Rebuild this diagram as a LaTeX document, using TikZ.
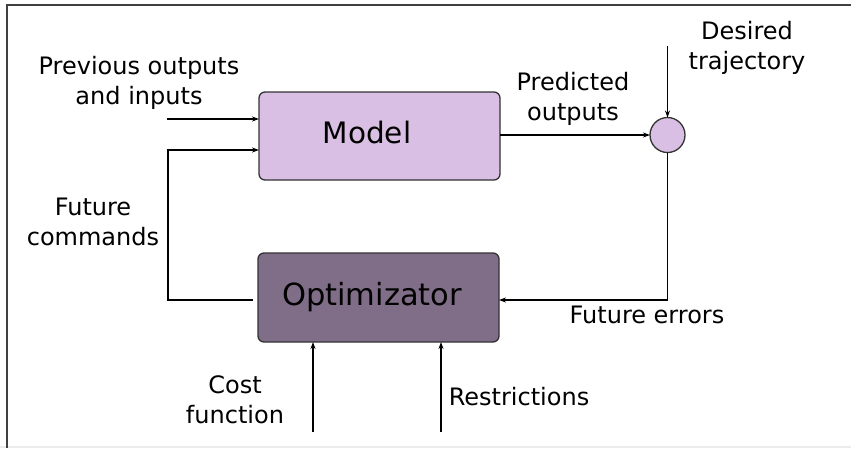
\documentclass[tikz,border=0pt]{standalone}
\usepackage{fontspec}
\setmainfont{DejaVu Sans}
\usetikzlibrary{arrows.meta}
\definecolor{modelfill}{HTML}{D9BFE3}
\definecolor{optfill}{HTML}{806D88}
\definecolor{edge}{HTML}{333333}
\begin{document}
\begin{tikzpicture}[x=1pt,y=-1pt,
  blockbox/.style={draw=edge,line width=1.3pt,rounded corners=6pt,
    minimum width=241pt,minimum height=88pt,inner sep=0pt,outer sep=0pt},
  sumnode/.style={circle,draw=edge,line width=1.3pt,fill=modelfill,
    minimum size=35pt,inner sep=0pt,outer sep=0pt},
  lbl/.style={font=\fontsize{24}{29.5}\selectfont,align=center,anchor=base,inner sep=0pt},
  bigtxt/.style={font=\fontsize{29.5}{34}\selectfont,anchor=base,inner sep=0pt},
  link/.style={draw=black,line width=1.2pt},
  flow/.style={link,-{Stealth[length=7pt,width=5pt]}}]
\useasboundingbox (0,0) rectangle (851,448);
% frame lines
\draw[draw=gray!15,line width=1.2pt] (0,447) -- (851,447);
\draw[draw=black!75,line width=2pt] (7,448) -- (7,5) -- (851,5);

% blocks
\node[blockbox,fill=modelfill] (model) at (379.5,136) {};
\node[blockbox,fill=optfill,minimum height=89pt] (opt) at (378.5,297.5) {};
\node[sumnode] (sum) at (667.5,135) {};
\node[bigtxt] (modeltxt) at (367,143) {Model};
\node[bigtxt,font=\fontsize{30.5}{34}\selectfont] (opttxt) at (372,305) {Optimizator};

% free ends of the connectors
\coordinate (pin) at (167,119);
\coordinate (fcleft) at (168,150);
\coordinate (fcbot) at (168,300);
\coordinate (des) at (667.5,46);
\coordinate (errc) at (667.5,300);
\coordinate (costc) at (313,432);
\coordinate (restc) at (441,432);

% connectors
\draw[flow] (pin) -- (pin -| model.west);
\draw[flow] ([xshift=-5pt]opt.west |- fcbot) -- (fcbot) -- (fcleft) -- (fcleft -| model.west);
\draw[flow] (model.east |- sum) -- (sum.west);
\draw[flow] (des) -- (sum.north);
\draw[flow] (sum.south) -- (errc) -- (errc -| opt.east);
\draw[flow] (costc) -- (costc |- opt.south);
\draw[flow] (restc) -- (restc |- opt.south);

% labels (base = baseline of the last line)
\node[lbl] (prevlbl) at (139,104) {Previous outputs\\and inputs};
\node[lbl] (deslbl) at (747,69) {Desired\\trajectory};
\node[lbl] (predlbl) at (573,120) {Predicted\\outputs};
\node[lbl] (fclbl) at (93,245) {Future\\commands};
\node[lbl] (errlbl) at (647,323) {Future errors};
\node[lbl] (costlbl) at (235,423) {Cost\\function};
\node[lbl] (restlbl) at (519,405) {Restrictions};
\end{tikzpicture}
\end{document}
